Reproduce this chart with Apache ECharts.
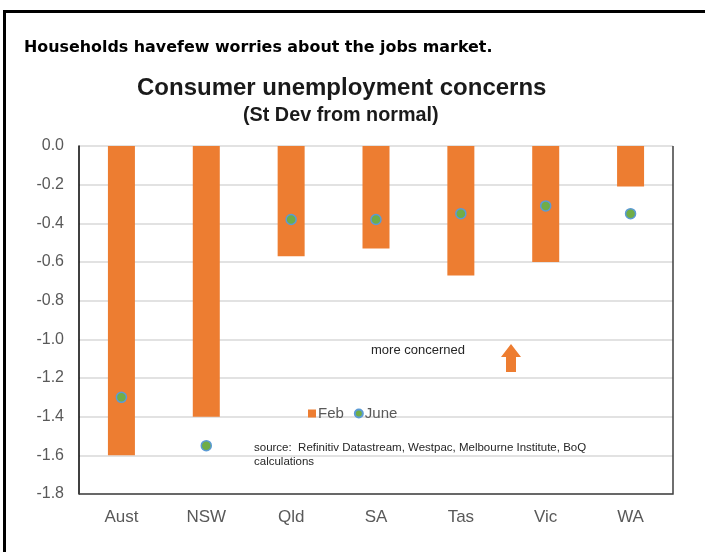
<!DOCTYPE html>
<html>
<head>
<meta charset="utf-8">
<script src="https://cdn.jsdelivr.net/npm/echarts@6/dist/echarts.min.js"></script>
<style>
  html, body { margin: 0; padding: 0; background: #fff; }
  #chart { width: 705px; height: 552px; }
</style>
</head>
<body>
<div id="chart"></div>
<script>
// Consumer unemployment concerns by state, standard deviations from normal
const categories = ['Aust', 'NSW', 'Qld', 'SA', 'Tas', 'Vic', 'WA'];
const febValues = [-1.60, -1.40, -0.57, -0.53, -0.67, -0.60, -0.21];
const juneValues = [-1.30, -1.55, -0.38, -0.38, -0.35, -0.31, -0.35];
const yTicks = { min: -1.8, max: 0, interval: 0.2 };

const sans = '"Liberation Sans", Arial, sans-serif';
const wide = '"DejaVu Sans", "Liberation Sans", sans-serif';

const chart = echarts.init(document.getElementById('chart'), null, { renderer: 'canvas' });

chart.setOption({
  animation: false,
  backgroundColor: '#ffffff',
  title: [
    {
      text: 'Households havefew worries about the jobs market.',
      left: 19, top: 35,
      textStyle: { fontFamily: wide, fontSize: 15.9, fontWeight: 'bold', color: '#000' }
    },
    {
      text: 'Consumer unemployment concerns',
      left: 132, top: 71,
      textStyle: { fontFamily: sans, fontSize: 24, fontWeight: 'bold', color: '#1a1a1a' }
    },
    {
      text: '(St Dev from normal)',
      left: 238, top: 101,
      textStyle: { fontFamily: sans, fontSize: 19.8, fontWeight: 'bold', color: '#1a1a1a' }
    }
  ],
  legend: {
    left: 303, top: 401,
    itemWidth: 8, itemHeight: 8, itemGap: 10,
    textStyle: { fontFamily: sans, fontSize: 15, color: '#595959', padding: [0, 0, 0, -3] },
    data: [
      { name: 'Feb', icon: 'rect' },
      { name: 'June', icon: 'circle' }
    ]
  },
  grid: { left: 79, right: 32, top: 146, bottom: 58 },
  xAxis: {
    type: 'category',
    data: categories,
    axisLine: { show: false },
    axisTick: { show: false },
    axisLabel: { fontFamily: sans, fontSize: 17, color: '#595959', margin: 15 }
  },
  yAxis: {
    type: 'value',
    min: yTicks.min, max: yTicks.max, interval: yTicks.interval,
    axisLine: { show: true, lineStyle: { color: '#000', width: 1.5 } },
    axisTick: { show: false },
    axisLabel: {
      fontFamily: sans, fontSize: 16, color: '#595959', margin: 15,
      formatter: v => v.toFixed(1)
    },
    splitLine: { show: true, lineStyle: { color: '#d9d9d9', width: 1.5 } }
  },
  series: [
    {
      name: 'Feb',
      type: 'bar',
      data: febValues,
      barWidth: 27,
      itemStyle: { color: '#ed7d31' },
      z: 2
    },
    {
      name: 'June',
      type: 'scatter',
      data: juneValues,
      symbol: 'circle',
      symbolSize: 10,
      itemStyle: { color: '#70ad47', borderColor: '#5b9bd5', borderWidth: 1.5, opacity: 1 },
      z: 3
    }
  ],
  graphic: [
    // page frame
    {
      type: 'rect', silent: true, z: 10,
      shape: { x: 4.5, y: 11.5, width: 800, height: 700 },
      style: { fill: null, stroke: '#000', lineWidth: 3 }
    },
    // plot box: bottom and right edges
    {
      type: 'polyline', silent: true, z: 5,
      shape: { points: [[79, 494], [673, 494], [673, 146]] },
      style: { fill: null, stroke: '#404040', lineWidth: 1.5 }
    },
    {
      type: 'text', left: 371, top: 344, z: 6,
      style: { text: 'more concerned', font: '13px ' + sans, fill: '#262626' }
    },
    // upward arrow
    {
      type: 'polygon', z: 6,
      shape: { points: [[511, 344], [521, 357], [516, 357], [516, 372], [506, 372], [506, 357], [501, 357]] },
      style: { fill: '#ed7d31' }
    },
    {
      type: 'text', left: 254, top: 441, z: 6,
      style: {
        text: 'source:  Refinitiv Datastream, Westpac, Melbourne Institute, BoQ\ncalculations',
        font: '11.5px ' + sans, fill: '#262626', lineHeight: 14
      }
    }
  ]
});
</script>
</body>
</html>
